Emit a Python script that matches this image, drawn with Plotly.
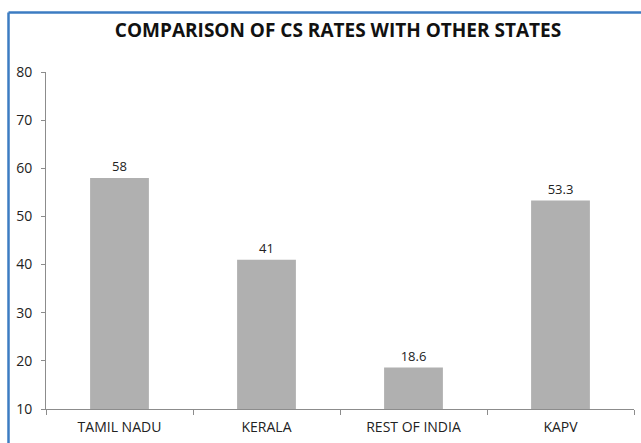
import plotly.graph_objects as go

categories = ["TAMIL NADU", "KERALA", "REST OF INDIA", "KAPV"]
values = [58, 41, 18.6, 53.3]
labels = ["58", "41", "18.6", "53.3"]

L, R, T, B = 46, 7, 72, 34
W, H = 641, 443
pw, ph = W - L - R, H - T - B

fig = go.Figure()
fig.add_trace(go.Bar(
    x=categories, y=values, text=labels, textposition="outside",
    textfont=dict(size=13, color="#222222", family="Open Sans, sans-serif"),
    marker=dict(color="#b0b0b0", line=dict(width=0)),
    cliponaxis=False,
))

def px(xp):
    return (xp - L) / pw

def py(yp):
    return (H - B - yp) / ph

fig.update_layout(
    width=W, height=H,
    margin=dict(l=L, r=R, t=T, b=B),
    paper_bgcolor="white", plot_bgcolor="white",
    bargap=0.6,
    showlegend=False,
    font=dict(family="Open Sans, sans-serif", color="#222222"),
    title=dict(text="<b>COMPARISON OF CS RATES WITH OTHER STATES</b>",
               x=(338) / W, xanchor="center", y=1 - 30 / H, yanchor="middle",
               font=dict(size=19, color="#111111", family="Open Sans, sans-serif")),
    xaxis=dict(showline=True, linecolor="#8c8c8c", linewidth=1,
               ticks="outside", tickcolor="#8c8c8c", ticklen=5,
               tickson="boundaries", showgrid=False, ticklabelstandoff=5,
               tickfont=dict(size=14, color="#222222")),
    yaxis=dict(range=[10, 80], dtick=10, showline=True, linecolor="#8c8c8c",
               linewidth=1, ticks="outside", tickcolor="#8c8c8c", ticklen=4,
               showgrid=False, zeroline=False, ticklabelstandoff=6,
               tickfont=dict(size=14, color="#222222")),
    shapes=[
        dict(type="line", xref="paper", yref="paper",
             x0=px(8.5), x1=px(660), y0=py(12.5), y1=py(12.5),
             line=dict(color="#3c7cc2", width=2.5)),
        dict(type="line", xref="paper", yref="paper",
             x0=px(8.5), x1=px(8.5), y0=py(12.5), y1=py(460),
             line=dict(color="#3c7cc2", width=2.5)),
    ],
)

fig.write_html("out.html")
